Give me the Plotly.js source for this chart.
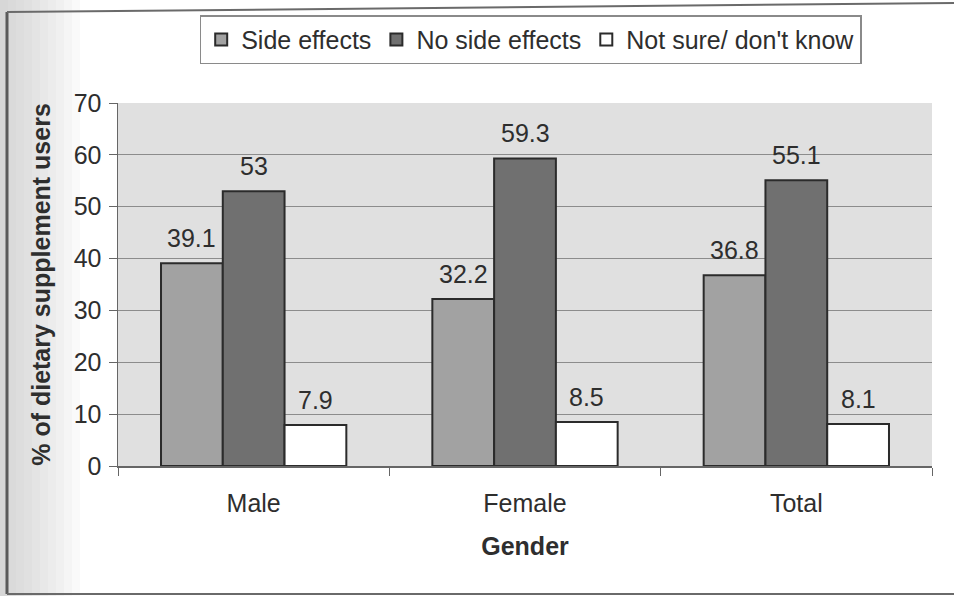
<!DOCTYPE html>
<html>
<head>
<meta charset="utf-8">
<script src="https://cdn.plot.ly/plotly-3.0.1.min.js"></script>
<style>
  html, body { margin: 0; padding: 0; background: #ffffff; }
  #chart { width: 954px; height: 596px; }
</style>
</head>
<body>
<div id="chart"></div>
<script>
// Reported side effects of dietary supplements, by gender
const categories = ["Male", "Female", "Total"];
const sideEffects = [39.1, 32.2, 36.8];
const noSideEffects = [53, 59.3, 55.1];
const notSure = [7.9, 8.5, 8.1];
const seriesNames = ["Side effects", "No side effects", "Not sure/ don't know"];
const yTicks = [0, 10, 20, 30, 40, 50, 60, 70];

const seriesValues = [sideEffects, noSideEffects, notSure];
const fills = ["#a2a2a2", "#707070", "#ffffff"];

const FONT = "Liberation Sans, Arial, sans-serif";
const INK = "#2e2e2e";
const FS = 25;

const traces = seriesValues.map((vals, s) => ({
  type: "bar",
  name: seriesNames[s],
  x: categories,
  y: vals,
  marker: { color: fills[s], line: { color: "#2b2b2b", width: 2 } },
  hoverinfo: "x+y+name"
}));

// value labels sit above each bar, one bar-width apart within a group
const plotW = 954 - 118 - 22;
const bargap = 0.317;
const barPx = (plotW / categories.length) * (1 - bargap) / seriesValues.length;
const annotations = [];
seriesValues.forEach((vals, s) => {
  vals.forEach((v, i) => {
    annotations.push({
      x: categories[i], y: v, xref: "x", yref: "y",
      text: String(v), showarrow: false,
      xanchor: "center", yanchor: "bottom",
      xshift: (s - 1) * barPx, yshift: 9,
      font: { family: FONT, size: FS, color: INK }
    });
  });
});

// paper-space helpers for the outer frame
const px = p => (p - 118) / plotW;
const py = p => 1 - (p - 103) / (466 - 103);

const shapes = [];
// soft grey shading along the left edge
const steps = 10;
for (let k = 0; k < steps; k++) {
  shapes.push({
    type: "rect", xref: "paper", yref: "paper", layer: "below",
    x0: px(0), x1: px(8 + k * 8), y0: py(596), y1: py(0),
    fillcolor: "#b8b8b8", opacity: 0.07, line: { width: 0 }
  });
}
// frame lines
shapes.push({ type: "line", xref: "paper", yref: "paper",
  x0: px(7), x1: px(7), y0: py(594), y1: py(12),
  line: { color: "#5a5a5a", width: 3 } });
shapes.push({ type: "line", xref: "paper", yref: "paper",
  x0: px(7), x1: px(954), y0: py(12), y1: py(3),
  line: { color: "#6a6a6a", width: 2 } });
shapes.push({ type: "line", xref: "paper", yref: "paper",
  x0: px(7), x1: px(954), y0: py(594), y1: py(594),
  line: { color: "#6a6a6a", width: 2 } });

const layout = {
  width: 954, height: 596,
  margin: { l: 118, r: 22, t: 103, b: 130, pad: 0 },
  paper_bgcolor: "#ffffff",
  plot_bgcolor: "#e0e0e0",
  font: { family: FONT, size: FS, color: INK },
  barmode: "group",
  bargap: bargap,
  bargroupgap: 0,
  showlegend: true,
  legend: {
    orientation: "h",
    x: 0.507, xanchor: "center",
    y: 1.242, yanchor: "top",
    bgcolor: "#ffffff",
    bordercolor: "#8a8a8a", borderwidth: 1.5,
    font: { family: FONT, size: FS, color: INK },
    itemsizing: "constant",
    traceorder: "normal",
    itemwidth: 30,
    tracegroupgap: 0
  },
  xaxis: {
    type: "category",
    showline: true, linecolor: "#666666", linewidth: 1.5,
    ticks: "outside", tickson: "boundaries", ticklen: 8,
    tickcolor: "#666666",
    ticklabelstandoff: 14,
    showgrid: false,
    tickfont: { family: FONT, size: FS, color: INK },
    title: { text: "<b>Gender</b>", standoff: 22,
      font: { family: FONT, size: FS, color: INK } },
    fixedrange: true
  },
  yaxis: {
    range: [0, 70],
    tickvals: yTicks,
    ticktext: yTicks.map(String),
    showline: true, linecolor: "#666666", linewidth: 1.5,
    ticks: "outside", ticklen: 8, tickcolor: "#666666",
    ticklabelstandoff: 2,
    showgrid: true, gridcolor: "#8c8c8c", gridwidth: 1,
    zeroline: false,
    tickfont: { family: FONT, size: FS, color: INK },
    title: { text: "<b>% of dietary supplement users</b>", standoff: 16,
      font: { family: FONT, size: FS, color: INK } },
    fixedrange: true
  },
  annotations: annotations,
  shapes: shapes
};

Plotly.newPlot("chart", traces, layout, { displayModeBar: false, staticPlot: true });
</script>
</body>
</html>
